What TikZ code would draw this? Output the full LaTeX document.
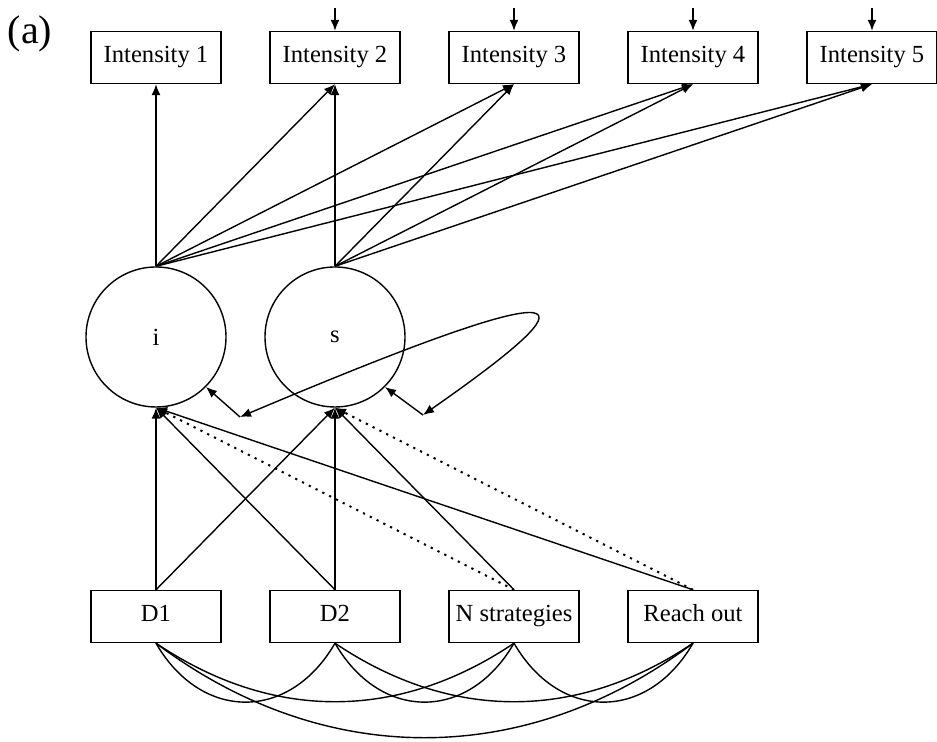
\documentclass[tikz,border=0pt]{standalone}
\usepackage{fontspec}
\setmainfont{Liberation Serif}
\usetikzlibrary{arrows.meta}

\tikzset{
  obsbox/.style={draw, line width=0.7pt, minimum width=65pt, minimum height=26pt, inner sep=0pt, text height=1.6ex, text depth=0.45ex, font=\fontsize{12.3}{14}\selectfont},
  latcirc/.style={draw, circle, line width=0.7pt, minimum size=70pt, inner sep=0pt, font=\fontsize{12.3}{14}\selectfont},
  pth/.style={line width=0.7pt, -{Latex[length=5.5pt,width=4.5pt]}},
  dotpath/.style={line width=1pt, dash pattern=on 1.1pt off 2.7pt},
  covline/.style={line width=0.7pt},
}

\begin{document}
\begin{tikzpicture}[x=0.5pt,y=0.5pt]
\useasboundingbox (0,0) rectangle (937,742);
\node[font=\fontsize{20}{22}\selectfont] (lab) at (30,708) {(a)};
% repeated measures
\foreach \k in {1,...,5}
    \node[obsbox] (int\k) at ({156+179*(\k-1)},684.5) {Intensity \k};
\foreach \k in {2,...,5}{
    \coordinate (r\k) at ({156+179*(\k-1)},734);
    \draw[pth] (r\k) -- (int\k.north);}%residuals
% growth factors
\node[latcirc] (i) at (156,405) {i};
\node[latcirc] (s) at (335,405) {s};
\foreach \k in {1,...,5}
    \draw[pth] (i.north) -- (int\k.south);
\foreach \k in {2,...,5}
    \draw[pth] (s.north) -- (int\k.south);
% covariance i with s
\coordinate (ci) at (240,325);
\coordinate (cs) at (423,327);
\draw[pth] (ci) -- (i.-45);
\draw[pth] (cs) -- (s.-45);
\draw[covline,{Latex[length=5.5pt,width=4.5pt]}-{Latex[length=5.5pt,width=4.5pt]}] (ci) .. controls (600,477) and (595,447) .. (cs);
% predictors
\node[obsbox] (d1) at (156,125.5) {D1};
\node[obsbox] (d2) at (335,125.5) {D2};
\node[obsbox] (nstr) at (514,125.5) {N strategies};
\node[obsbox] (reach) at (693,125.5) {Reach out};
\draw[pth] (d1.north) -- (i.south);
\draw[pth] (d1.north) -- (s.south);
\draw[pth] (d2.north) -- (i.south);
\draw[pth] (d2.north) -- (s.south);
\draw[pth,dotpath] (nstr.north) -- (i.south);%n.s.
\draw[pth] (nstr.north) -- (s.south);
\draw[pth] (reach.north) -- (i.south);
\draw[pth,dotpath] (reach.north) -- (s.south);%n.s.
% covariances among predictors
\draw[covline] (d1.south) to[out=-60,in=-120,looseness=1.3] (d2.south);
\draw[covline] (d2.south) to[out=-60,in=-120,looseness=1.3] (nstr.south);
\draw[covline] (nstr.south) to[out=-60,in=-120,looseness=1.3] (reach.south);
\draw[covline] (d1.south) to[out=-34,in=-146] (nstr.south);
\draw[covline] (d2.south) to[out=-34,in=-146] (reach.south);
\draw[covline] (d1.south) to[out=-37,in=-143] (reach.south);
\end{tikzpicture}
\end{document}
